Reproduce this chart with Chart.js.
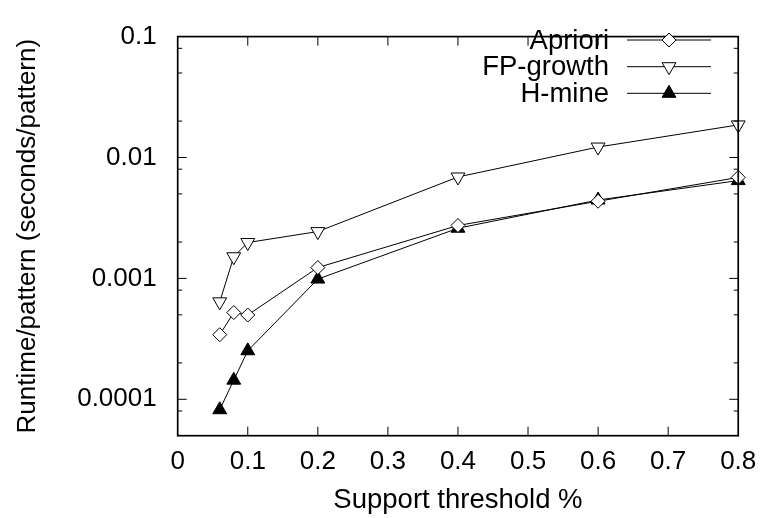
<!DOCTYPE html>
<html>
<head>
<meta charset="utf-8">
<script src="https://cdn.jsdelivr.net/npm/chart.js@4/dist/chart.umd.min.js"></script>
<style>
html,body{margin:0;padding:0;background:#fff;}
#wrap{position:relative;width:767px;height:518px;}
</style>
</head>
<body>
<div id="wrap"><canvas id="c"></canvas></div>
<script>
// ---- data ----
const supportThresholds = [0.06, 0.08, 0.1, 0.2, 0.4, 0.6, 0.8];
const aprioriValues  = [3.42e-4, 5.22e-4, 4.98e-4, 1.23e-3, 2.74e-3, 4.35e-3, 6.84e-3];
const fpGrowthValues = [6.4e-4, 1.51e-3, 1.98e-3, 2.44e-3, 6.9e-3, 0.0122, 0.0186];
const hMineValues    = [8.2e-5, 1.44e-4, 2.52e-4, 9.87e-4, 2.6e-3, 4.45e-3, 6.44e-3];
const seriesNames = ['Apriori', 'FP-growth', 'H-mine'];

const xTickValues = [0, 0.1, 0.2, 0.3, 0.4, 0.5, 0.6, 0.7, 0.8];
const xTickLabels = ['0', '0.1', '0.2', '0.3', '0.4', '0.5', '0.6', '0.7', '0.8'];
const yTickValues = [0.0001, 0.001, 0.01, 0.1];
const yTickLabels = ['0.0001', '0.001', '0.01', '0.1'];
const yMinorTicks = [0.00005, 0.00008, 0.0002, 0.0005, 0.0008, 0.002, 0.005, 0.008, 0.02, 0.05, 0.08];

const FONT = 'Liberation Sans, Arial, Helvetica, sans-serif';

function toXY(xs, ys) { return xs.map((x, i) => ({x: x, y: ys[i]})); }

const ds = (label, values, style, rot, fill, r) => ({
  label: label,
  data: toXY(supportThresholds, values),
  borderColor: '#000',
  borderWidth: 1,
  pointStyle: style,
  rotation: rot,
  pointRadius: r,
  pointHoverRadius: r,
  pointBorderWidth: 1,
  pointBorderColor: '#000',
  pointBackgroundColor: fill,
  backgroundColor: fill,
  fill: false,
  tension: 0,
  clip: false
});

const framePlugin = {
  id: 'frame',
  afterDraw(chart) {
    const {ctx, chartArea: a, scales} = chart;
    const xs = scales.x, ys = scales.y;
    ctx.save();
    ctx.strokeStyle = '#000';
    ctx.lineWidth = 1;
    const major = 9, minor = 4.5;
    ctx.beginPath();
    xTickValues.forEach(v => {
      const px = xs.getPixelForValue(v);
      if (v > 0 && v < 0.8) {
        ctx.moveTo(px, a.bottom); ctx.lineTo(px, a.bottom - major);
        ctx.moveTo(px, a.top); ctx.lineTo(px, a.top + major);
      }
    });
    yTickValues.forEach(v => {
      const py = ys.getPixelForValue(v);
      if (py > a.top + 1 && py < a.bottom - 1) {
        ctx.moveTo(a.left, py); ctx.lineTo(a.left + major, py);
        ctx.moveTo(a.right, py); ctx.lineTo(a.right - major, py);
      }
    });
    yMinorTicks.forEach(v => {
      const py = ys.getPixelForValue(v);
      if (py > a.top + 1 && py < a.bottom - 1) {
        ctx.moveTo(a.left, py); ctx.lineTo(a.left + minor, py);
        ctx.moveTo(a.right, py); ctx.lineTo(a.right - minor, py);
      }
    });
    ctx.stroke();
    ctx.lineWidth = 1.7;
    ctx.strokeRect(a.left, a.top, a.right - a.left, a.bottom - a.top);

    // legend
    const textRight = 609, lineL = 627, lineR = 711, markX = 669;
    const rowY = [40, 66.7, 93.3];
    ctx.font = '27.5px ' + FONT;
    ctx.fillStyle = '#000';
    ctx.textAlign = 'right';
    ctx.textBaseline = 'middle';
    chart.data.datasets.forEach((d, i) => {
      const y = rowY[i];
      ctx.fillText(d.label, textRight, y + 1);
      ctx.beginPath();
      ctx.lineWidth = 1;
      ctx.moveTo(lineL, y); ctx.lineTo(lineR, y);
      ctx.stroke();
      ctx.fillStyle = d.pointBackgroundColor;
      ctx.strokeStyle = '#000';
      Chart.helpers.drawPoint(ctx, {pointStyle: d.pointStyle, rotation: d.rotation, radius: d.pointRadius, borderWidth: 1}, markX, y);
      ctx.fillStyle = '#000';
    });
    ctx.restore();
  }
};

new Chart(document.getElementById('c'), {
  type: 'line',
  data: {
    datasets: [
      ds(seriesNames[0], aprioriValues, 'rectRot', 0, '#fff', 7),
      ds(seriesNames[1], fpGrowthValues, 'triangle', 180, '#fff', 8),
      ds(seriesNames[2], hMineValues, 'triangle', 0, '#000', 8)
    ]
  },
  options: {
    responsive: true,
    maintainAspectRatio: false,
    animation: false,
    events: [],
    layout: {padding: {left: 0, right: 21.5, top: 17.3, bottom: 0}},
    plugins: {legend: {display: false}, tooltip: {enabled: false}},
    scales: {
      x: {
        type: 'linear',
        min: 0, max: 0.8,
        afterBuildTicks: s => { s.ticks = xTickValues.map(v => ({value: v})); },
        afterFit: s => { s.height = 518 - 435.7; },
        grid: {display: false, drawTicks: false},
        border: {display: false},
        ticks: {
          color: '#000', padding: 10.7, maxRotation: 0, autoSkip: false,
          font: {family: FONT, size: 26},
          callback: (v, i) => xTickLabels[xTickValues.indexOf(v)] ?? ''
        },
        title: {display: true, text: 'Support threshold %', color: '#000',
          font: {family: FONT, size: 27.5}, padding: {top: 0, bottom: 1.3}}
      },
      y: {
        type: 'logarithmic',
        min: 0.00005, max: 0.1,
        afterBuildTicks: s => { s.ticks = yTickValues.map(v => ({value: v})); },
        afterFit: s => { s.width = 177.7; },
        grid: {display: false, drawTicks: false},
        border: {display: false},
        ticks: {
          color: '#000', padding: 21, autoSkip: false,
          font: {family: FONT, size: 26},
          callback: (v) => { const i = yTickValues.findIndex(t => Math.abs(t - v) / t < 1e-6); return i >= 0 ? yTickLabels[i] : ''; }
        },
        title: {display: true, text: 'Runtime/pattern (seconds/pattern)', color: '#000',
          font: {family: FONT, size: 26}, padding: {top: 12.4, bottom: 0}}
      }
    }
  },
  plugins: [framePlugin]
});
</script>
</body>
</html>
